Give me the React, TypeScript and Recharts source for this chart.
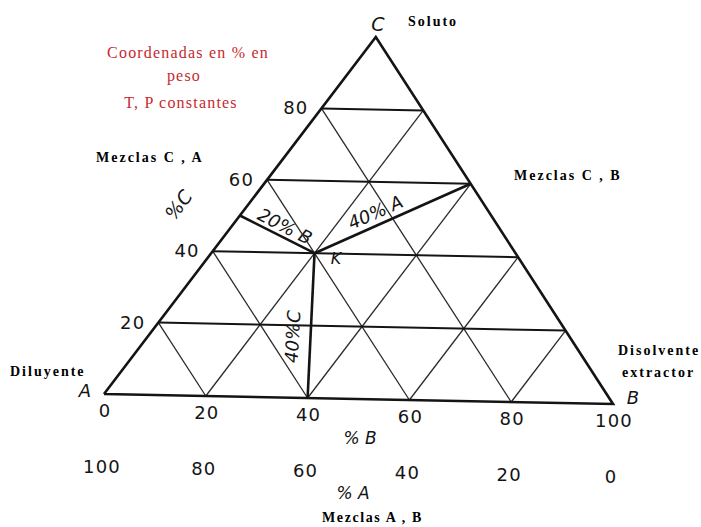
import React from 'react';
import { ScatterChart, Scatter, XAxis, YAxis } from 'recharts';

// ternary diagram: compositions in % (B, C); A = 100 - B - C
const gridLevels = [20, 40, 60, 80];
const cTicks = [20, 40, 60, 80];
const bTicks = [0, 20, 40, 60, 80, 100];
const aTicks = [100, 80, 60, 40, 20, 0];
const vertexA = { b: 0, c: 0 };
const vertexB = { b: 100, c: 0 };
const vertexC = { b: 0, c: 100 };
const pointK = { b: 20, c: 40 };
// feet of the three bold segments from K (to sides AC, BC, AB)
const kFeet = [
  { b: 0, c: 50 },
  { b: 40, c: 60 },
  { b: 40, c: 0 },
];

// the scanned triangle is a bit skewed and tilted
const SKEW = 0.534;
const TILT = 0.028;
const toXY = (p: { b: number; c: number }) => ({ x: p.b + p.c * SKEW, y: p.c - p.b * TILT });

// plot area spans the whole svg so the tick text is not clipped
const W = 701;
const H = 527;
const X0 = 104; // pixel of A
const XS = 5.09; // px per % along x
const Y0 = 394;
const YS = 3.57;
const xDomain = [-X0 / XS, (W - X0) / XS];
const yDomain = [(Y0 - H) / YS, Y0 / YS];

const SERIF = '"Liberation Serif", "Times New Roman", serif';
const SANS = '"DejaVu Sans", Verdana, sans-serif';
const INK = '#141414';

const NoDot = () => <g />;

const outline = [vertexA, vertexB, vertexC, vertexA].map(toXY);
const cLines = gridLevels.map((c) => [toXY({ b: 0, c }), toXY({ b: 100 - c, c })]);
const bLines = gridLevels.map((b) => [toXY({ b, c: 0 }), toXY({ b, c: 100 - b })]);
const aLines = gridLevels.map((a) => [toXY({ b: 100 - a, c: 0 }), toXY({ b: 0, c: 100 - a })]);
const kLines = kFeet.map((f) => [toXY(pointK), toXY(f)]);

const leftTickData = cTicks.map((c) => ({ ...toXY({ b: 0, c }), label: c }));
const baseTickData = bTicks.map((b, i) => ({ ...toXY({ b, c: 0 }), label: b, labelA: aTicks[i] }));

const LeftTick = (props: any) => (
  <text x={props.cx - 13} y={props.cy + 6} textAnchor="end" fontFamily={SANS} fontSize={18} letterSpacing={1.2} fill={INK}>
    {props.payload.label}
  </text>
);

const BaseTick = (props: any) => (
  <g>
    <text x={props.cx + 1} y={props.cy + 23} textAnchor="middle" fontFamily={SANS} fontSize={18} letterSpacing={1.2} fill={INK}>
      {props.payload.label}
    </text>
    <text x={props.cx - 2} y={props.cy + 79} textAnchor="middle" fontFamily={SANS} fontSize={18} letterSpacing={1.2} fill={INK}>
      {props.payload.labelA}
    </text>
  </g>
);

export default function App() {
  return (
    <div style={{ position: 'absolute', left: 0, top: 0, width: W, height: H, background: '#fff' }}>
      <ScatterChart width={W} height={H} margin={{ top: 0, right: 0, bottom: 0, left: 0 }}>
        <XAxis type="number" dataKey="x" domain={xDomain} hide allowDataOverflow />
        <YAxis type="number" dataKey="y" domain={yDomain} hide allowDataOverflow />

        {aLines.map((pts, i) => (
          <Scatter key={`a${i}`} data={pts} shape={NoDot} line={{ stroke: '#2a2a2a', strokeWidth: 1.3 }} isAnimationActive={false} />
        ))}
        {bLines.map((pts, i) => (
          <Scatter key={`b${i}`} data={pts} shape={NoDot} line={{ stroke: '#2a2a2a', strokeWidth: 1.3 }} isAnimationActive={false} />
        ))}
        {cLines.map((pts, i) => (
          <Scatter key={`c${i}`} data={pts} shape={NoDot} line={{ stroke: INK, strokeWidth: 2 }} isAnimationActive={false} />
        ))}
        <Scatter data={outline} shape={NoDot} line={{ stroke: INK, strokeWidth: 2.6 }} isAnimationActive={false} />
        {kLines.map((pts, i) => (
          <Scatter key={`k${i}`} data={pts} shape={NoDot} line={{ stroke: INK, strokeWidth: 2.6 }} isAnimationActive={false} />
        ))}

        <Scatter data={leftTickData} shape={LeftTick} isAnimationActive={false} />
        <Scatter data={baseTickData} shape={BaseTick} isAnimationActive={false} />

        {/* vertex letters and axis titles */}
        <g fontFamily={SANS} fontStyle="italic" fill={INK}>
          <text x={378} y={31} fontSize={19} textAnchor="middle">C</text>
          <text x={85} y={397} fontSize={18} textAnchor="middle">A</text>
          <text x={633} y={404} fontSize={18} textAnchor="middle">B</text>
          <text x={336} y={264} fontSize={16} textAnchor="middle">K</text>
          <text x={360} y={444} fontSize={17} textAnchor="middle">% B</text>
          <text x={353} y={499} fontSize={17} textAnchor="middle">% A</text>
          <text x={0} y={0} fontSize={19} textAnchor="middle" transform="translate(184 209) rotate(-53)">%C</text>
          <text x={0} y={0} fontSize={18} textAnchor="middle" transform="translate(282 232) rotate(27)">20% B</text>
          <text x={0} y={0} fontSize={18} textAnchor="middle" transform="translate(378 218) rotate(-24)">40% A</text>
          <text x={0} y={0} fontSize={18} textAnchor="middle" transform="translate(299 337) rotate(-87)">40%C</text>
        </g>

        {/* red note */}
        <g fontFamily={SERIF} fill="#c8282d" fontSize={16} letterSpacing={1.2} textAnchor="middle">
          <text x={188} y={58}>Coordenadas en % en</text>
          <text x={184} y={81}>peso</text>
          <text x={181} y={108}>T, P constantes</text>
        </g>

        {/* mixture labels */}
        <g fontFamily={SERIF} fontWeight="bold" fill="#000" fontSize={14} letterSpacing={2}>
          <text x={96} y={162}>Mezclas C , A</text>
          <text x={408} y={26}>Soluto</text>
          <text x={514} y={180}>Mezclas C , B</text>
          <text x={10} y={376}>Diluyente</text>
          <text x={618} y={355}>Disolvente</text>
          <text x={622} y={377}>extractor</text>
          <text x={322} y={522} letterSpacing={1.6}>Mezclas A , B</text>
        </g>
      </ScatterChart>
    </div>
  );
}
